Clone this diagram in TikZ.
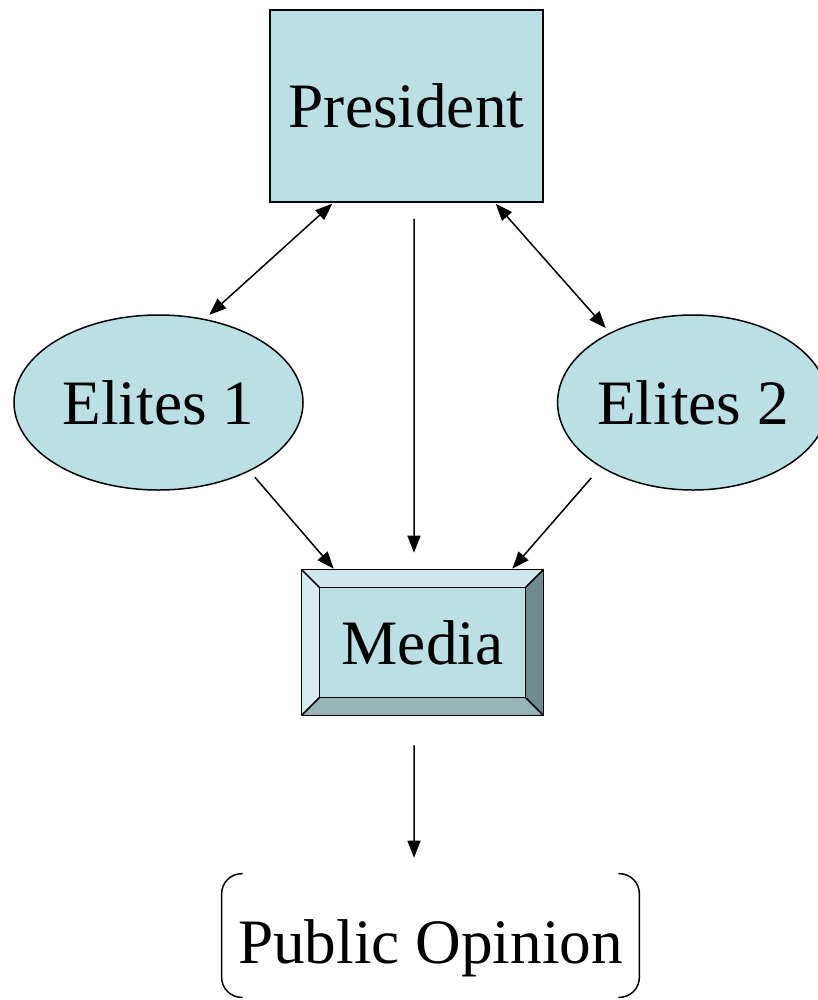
\documentclass[tikz,border=0pt]{standalone}
\usepackage{fontspec}
\setmainfont{Liberation Serif}
\usetikzlibrary{arrows.meta,calc,shapes.geometric}
\definecolor{boxfill}{HTML}{BBE0E3}
\definecolor{bevtop}{HTML}{CDE7EA}
\definecolor{bevleft}{HTML}{D6EDEF}
\definecolor{bevright}{HTML}{6F8B8D}
\definecolor{bevbottom}{HTML}{97B4B6}
\tikzset{
  lw/.style={line width=0.85pt},
  presbox/.style={rectangle, draw, lw, fill=boxfill, inner sep=0pt, font=\fontsize{36}{40}\selectfont},
  elitenode/.style={ellipse, draw, lw, fill=boxfill, inner sep=0pt, font=\fontsize{36}{40}\selectfont},
  medianode/.style={rectangle, inner sep=0pt, font=\fontsize{36}{40}\selectfont},
  opinionnode/.style={rectangle, inner sep=0pt, font=\fontsize{36}{40}\selectfont},
  arr/.style={lw, -{Triangle[length=3.4mm,width=2.6mm]}},
  biarr/.style={lw, {Triangle[length=3.4mm,width=2.6mm]}-{Triangle[length=3.4mm,width=2.6mm]}},
  bev/.style={draw, lw, line join=miter}
}
\begin{document}
\begin{tikzpicture}[x=0.2mm,y=-0.2mm]
\useasboundingbox (0,0) rectangle (818,1000);
\clip (0,0) rectangle (818,1000);

\node[presbox, minimum width=54.6mm, minimum height=38.4mm] (pres) at (406.5,106) {President};
\node[elitenode, minimum width=57.8mm, minimum height=35mm] (el1) at (158.5,402.5) {Elites 1};
\node[elitenode, minimum width=54mm, minimum height=35mm] (el2) at (693,402.5) {Elites 2};

% Media bevel box
\node[medianode, minimum width=48.2mm, minimum height=29mm] (media) at (422.5,642.5) {};
\coordinate (inw) at ($(media.north west)+(18,18)$);
\coordinate (ine) at ($(media.north east)+(-18,18)$);
\coordinate (isw) at ($(media.south west)+(18,-18)$);
\coordinate (ise) at ($(media.south east)+(-18,-18)$);
\fill[bevtop] (media.north west) -- (media.north east) -- (ine) -- (inw) -- cycle;
\fill[bevleft] (media.north west) -- (inw) -- (isw) -- (media.south west) -- cycle;
\fill[bevright] (media.north east) -- (media.south east) -- (ise) -- (ine) -- cycle;
\fill[bevbottom] (media.south west) -- (isw) -- (ise) -- (media.south east) -- cycle;
\draw[bev, fill=boxfill] (inw) rectangle (ise);
\draw[bev] (media.north west) rectangle (media.south east);
\draw[lw] (media.north west) -- (inw) (media.north east) -- (ine)
          (media.south west) -- (isw) (media.south east) -- (ise);
\node[medianode] (medialabel) at (media.center) {Media};

% Public Opinion with brackets
\node[opinionnode, minimum width=83.4mm, text height=17.8mm, text depth=6.8mm] (po) at (430.5,935.5) {Public Opinion};
\draw[lw, rounded corners=4mm] ([xshift=4.2mm]po.north west) -- (po.north west) -- (po.south west) -- ([xshift=4.2mm]po.south west);
\draw[lw, rounded corners=4mm] ([xshift=-4.2mm]po.north east) -- (po.north east) -- (po.south east) -- ([xshift=-4.2mm]po.south east);

% connectors
\draw[biarr, shorten >=1.2mm] ([xshift=12.6mm,yshift=-0.2mm]pres.south west) -- (el1.61);
\draw[biarr, shorten >=1.2mm] ([xshift=-9.6mm,yshift=-0.2mm]pres.south east) -- (el2.140);
\draw[arr] ([xshift=1.5mm,yshift=-3.2mm]pres.south) -- ([xshift=-1.7mm,yshift=3.4mm]media.north);
\draw[arr, shorten <=1.6mm] (el1.-37) -- ([xshift=6.4mm,yshift=0.2mm]media.north west);
\draw[arr, shorten <=2.8mm] (el2.215) -- ([xshift=-6.2mm,yshift=0.2mm]media.north east);
\draw[arr] ([xshift=-1.7mm,yshift=-6mm]media.south) -- ([xshift=-3.3mm,yshift=3.2mm]po.north);
\end{tikzpicture}
\end{document}
